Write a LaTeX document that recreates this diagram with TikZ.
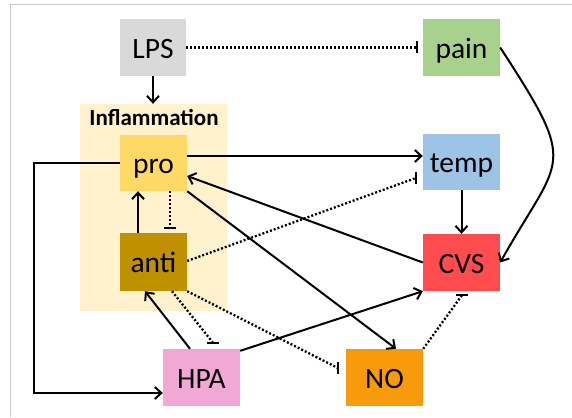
\documentclass[tikz,border=0pt]{standalone}
\usepackage{fontspec}
\setmainfont{Carlito}
\usetikzlibrary{arrows.meta,calc}
\definecolor{cLPS}{HTML}{D9D9D9}
\definecolor{cPain}{HTML}{A9D18E}
\definecolor{cTemp}{HTML}{9DC3E6}
\definecolor{cPro}{HTML}{FFD966}
\definecolor{cAnti}{HTML}{BF9000}
\definecolor{cBG}{HTML}{FFF2CC}
\definecolor{cCVS}{HTML}{FF4D4F}
\definecolor{cHPA}{HTML}{F2A8D5}
\definecolor{cNO}{HTML}{F79B0C}
\definecolor{cFrame}{HTML}{C8C8C8}
\newcommand\vbarat[1]{\draw[barline] ($(#1)+(0,-6)$) -- ($(#1)+(0,6)$);}
\newcommand\hbarat[1]{\draw[barline] ($(#1)+(-6,0)$) -- ($(#1)+(6,0)$);}
\begin{document}
\begin{tikzpicture}[x=1pt,y=-1pt,
  box/.style={inner sep=0pt, text height=21.5pt, text depth=0pt,
    font=\fontsize{29.5}{31}\selectfont},
  arr/.style={line width=2pt, -{Straight Barb[length=6.5pt,width=12pt,line width=2pt]}},
  inh/.style={line width=2.3pt, dash pattern=on 2pt off 2pt},
  barline/.style={line width=2pt},
]
\useasboundingbox (0,0) rectangle (572,417);
\draw[cFrame, line width=1pt] (10,417) -- (10,5) -- (572,5);

% background
\node[fill=cBG, minimum width=147pt, minimum height=207pt, inner sep=0pt] (infl) at (153.5,207.5) {};
\node[font=\bfseries\fontsize{23}{25}\selectfont, anchor=base] (lbl) at (154,125) {Inflammation};

% nodes
\node[box, fill=cLPS,  minimum width=66pt, minimum height=57pt] (LPS)  at (153,47.5)   {LPS};
\node[box, fill=cPain, minimum width=77pt, minimum height=57pt] (pain) at (461.5,47.5) {pain};
\node[box, fill=cPro,  minimum width=67pt, minimum height=56pt] (pro)  at (153.5,163)  {pro};
\node[box, fill=cTemp, minimum width=77pt, minimum height=56pt] (temp) at (461.5,162)  {temp};
\node[box, fill=cAnti, minimum width=67pt, minimum height=58pt] (anti) at (153.5,262)  {anti};
\node[box, fill=cCVS,  minimum width=77pt, minimum height=57pt] (CVS)  at (461.5,262.5){CVS};
\node[box, fill=cHPA,  minimum width=77pt, minimum height=57pt] (HPA)  at (201.5,377.5){HPA};
\node[box, fill=cNO,   minimum width=77pt, minimum height=57pt] (NO)   at (384.5,377.5){NO};

% bar coordinates
\coordinate (bPain) at ($(pain.west)+(-6,0)$);
\coordinate (bAnti) at ($(anti.north)+(16.5,-5)$);
\coordinate (bTemp) at ($(temp.west)+(-7,16)$);
\coordinate (bHPA)  at ($(HPA.north)+(11.5,-6)$);
\coordinate (bNO)   at ($(NO.west)+(-8,-9.5)$);
\coordinate (bCVS)  at ($(CVS.south)+(0.5,4)$);

% activating connectors
\draw[arr] (LPS.south) -- (LPS.south |- infl.north);
\draw[arr] ($(pro.east)+(0,-7)$) -- ($(temp.west)+(0,-6)$);
\draw[arr] (pro.west) -- ++(-86,0) |- ($(HPA.west)+(0,15.5)$);
\draw[arr] ($(anti.north)+(-15.5,0)$) -- ($(pro.south)+(-15.5,0)$);
\draw[arr] (CVS.west) -- ($(pro.east)+(0,13)$);
\draw[arr] (pro.south east) -- ($(NO.north)+(11.5,0)$);
\draw[arr] ($(HPA.north)+(-11.5,0)$) -- ($(anti.south)+(-8.5,0)$);
\draw[arr] ($(HPA.north east)+(0,2)$) -- (CVS.south west);
\draw[arr] (temp.south) -- (CVS.north);
\draw[arr] (pain.east) .. controls (580,170) and (561,154) .. (CVS.east);

% inhibiting connectors
\draw[inh] (LPS.east) -- (bPain); \vbarat{bPain}
\draw[inh] ($(pro.south)+(16.5,0)$) -- (bAnti); \hbarat{bAnti}
\draw[inh] ($(anti.east)+(0,-1)$) -- (bTemp); \vbarat{bTemp}
\draw[inh] ($(anti.south)+(18.5,0)$) -- (bHPA); \hbarat{bHPA}
\draw[inh] (anti.south east) -- (bNO); \vbarat{bNO}
\draw[inh] (NO.north east) -- (bCVS); \hbarat{bCVS}
\end{tikzpicture}
\end{document}
